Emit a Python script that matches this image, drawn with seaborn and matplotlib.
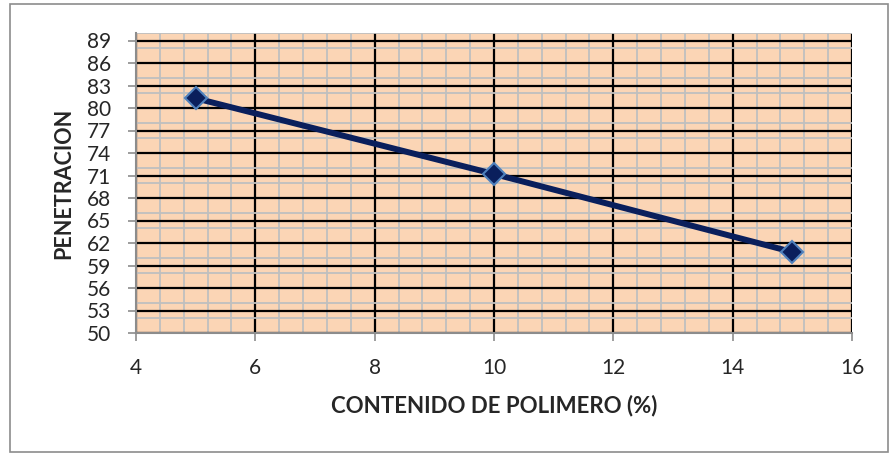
import matplotlib
matplotlib.use("Agg")
import matplotlib.pyplot as plt
import seaborn as sns
import pandas as pd
from matplotlib.ticker import MultipleLocator
from matplotlib.patches import Rectangle

polimero = [5, 10, 15]
penetracion = [81.3, 71.2, 60.8]
y_ticks = list(range(50, 90, 3))
x_ticks = [4, 6, 8, 10, 12, 14, 16]

df = pd.DataFrame({"polimero": polimero, "penetracion": penetracion})

sns.set_style("white")
plt.rcParams["font.family"] = ["Lato", "DejaVu Sans"]

fig = plt.figure(figsize=(8.9, 4.54), dpi=100)
ax = fig.add_axes([136 / 890, 1 - 333 / 454, (852 - 136) / 890, 300 / 454])
ax.set_facecolor("#FBD5B5")

sns.lineplot(data=df, x="polimero", y="penetracion", ax=ax, color="#0A1F5C",
             linewidth=4.3, marker="D", markersize=11, markerfacecolor="#0A1F5C",
             markeredgecolor="#4F81BD", markeredgewidth=1.5, zorder=5)

ax.set_xlim(4, 16)
ax.set_ylim(50, 90)
ax.set_xticks(x_ticks)
ax.set_yticks(y_ticks)
ax.xaxis.set_minor_locator(MultipleLocator(0.4))
ax.yaxis.set_minor_locator(MultipleLocator(2))
ax.grid(which="minor", color="#BFBFBF", linewidth=1.3, zorder=1)
ax.grid(which="major", color="black", linewidth=1.6, zorder=2)
ax.set_axisbelow(True)

ax.tick_params(axis="both", which="major", labelsize=15, color="#8C8C8C",
               length=6, width=1.2, direction="out", left=True, bottom=True)
ax.tick_params(axis="both", which="minor", length=0)
ax.tick_params(axis="x", pad=12)
ax.tick_params(axis="y", pad=12)

for s in ["top", "right"]:
    ax.spines[s].set_visible(False)
for s in ["left", "bottom"]:
    ax.spines[s].set_color("#8C8C8C")
    ax.spines[s].set_linewidth(1.5)

ax.set_xlabel("CONTENIDO DE POLIMERO (%)", fontsize=16, fontweight="bold", labelpad=12)
ax.set_ylabel("PENETRACION", fontsize=15.5, fontweight="bold", labelpad=9)

fig.patches.append(Rectangle((10 / 890, 2 / 454), 878 / 890, 448 / 454,
                             transform=fig.transFigure, fill=False,
                             edgecolor="#8C8C8C", linewidth=1.2))

fig.savefig("out.png", dpi=100)
